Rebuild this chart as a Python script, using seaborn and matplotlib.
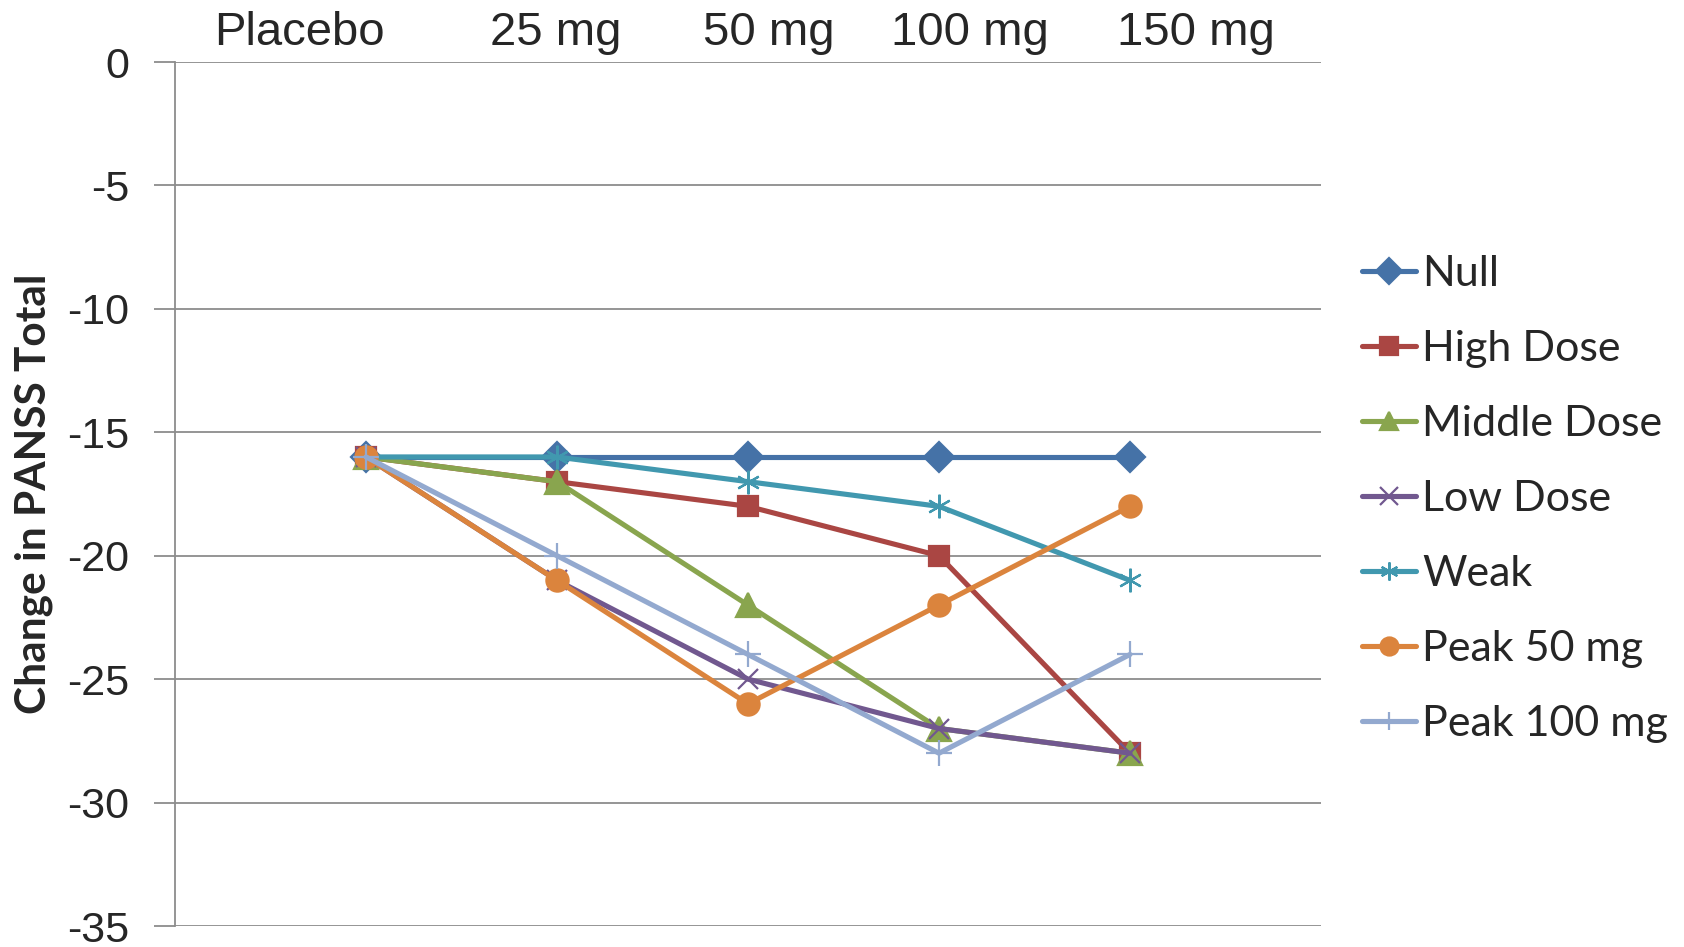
import matplotlib
matplotlib.use("Agg")
import matplotlib.pyplot as plt
import seaborn as sns
import pandas as pd

# ---- data ----
doses = ["Placebo", "25 mg", "50 mg", "100 mg", "150 mg"]
dose_pos = [1, 2, 3, 4, 5]
null = [-16, -16, -16, -16, -16]
high_dose = [-16, -17, -18, -20, -28]
middle_dose = [-16, -17, -22, -27, -28]
low_dose = [-16, -21, -25, -27, -28]
weak = [-16, -16, -17, -18, -21]
peak_50 = [-16, -21, -26, -22, -18]
peak_100 = [-16, -20, -24, -28, -24]

series_names = ["Null", "High Dose", "Middle Dose", "Low Dose", "Weak", "Peak 50 mg", "Peak 100 mg"]
series_values = [null, high_dose, middle_dose, low_dose, weak, peak_50, peak_100]
colors = ["#4572A7", "#AA4643", "#89A54E", "#71588F", "#4198AF", "#DB843D", "#93A9CF"]
markers = ["D", "s", "^", "x", (6, 2, 0), "o", "+"]
msizes = [15, 14, 17, 15, 17, 16, 19]

W, H = 1684, 947
sns.set_theme(style="white")
plt.rcParams["font.family"] = ["Liberation Sans", "DejaVu Sans"]

fig = plt.figure(figsize=(W / 100, H / 100), dpi=100)
ax = fig.add_axes([175 / W, 1 - 926 / H, (1321 - 175) / W, (926 - 62) / H])

for name, vals, c, m, ms in zip(series_names, series_values, colors, markers, msizes):
    df = pd.DataFrame({"x": dose_pos, "y": vals})
    sns.lineplot(data=df, x="x", y="y", ax=ax, color=c, marker=m, markersize=ms,
                 linewidth=3.7, markeredgecolor=c, markeredgewidth=1.6, label=name)

ax.set_xlim(0, 6)
ax.set_ylim(-35, 0)
ax.set_yticks(range(-35, 1, 5))
ax.set_yticklabels([str(v) for v in range(-35, 1, 5)], fontsize=31)
ax.set_xticks([])
ax.set_xlabel("")
ax.set_ylabel("")
ax.yaxis.grid(True, color="#8c8c8c", linewidth=1.3)
ax.tick_params(axis="y", which="major", direction="out", length=15, width=1.3,
               color="#8c8c8c", pad=18, left=True)
for s in ["top", "right", "bottom"]:
    ax.spines[s].set_visible(False)
ax.spines["left"].set_color("#8c8c8c")
ax.spines["left"].set_linewidth(1.3)

# top dose labels
label_x = [299, 556, 769, 970, 1196]
for lx, t in zip(label_x, doses):
    fig.text(lx / W, 1 - 45 / H, t, ha="center", va="baseline", fontsize=34,
             family=["Liberation Sans", "DejaVu Sans"])

# y label
fig.text(34 / W, 1 - 494 / H, "Change in PANSS Total", rotation=90, ha="center", va="center",
         fontsize=30.5, fontweight="bold", family=["Lato", "DejaVu Sans"])

leg = ax.legend(loc="upper left", bbox_to_anchor=(1362 / W, 1 - 255 / H),
                bbox_transform=fig.transFigure, frameon=False, borderpad=0,
                borderaxespad=0, handlelength=1.25, handletextpad=0.15,
                labelspacing=0.86, prop={"family": ["Lato", "DejaVu Sans"], "size": 31})
for h in leg.legend_handles:
    h.set_markersize(13)

fig.savefig("out.png", dpi=100)
